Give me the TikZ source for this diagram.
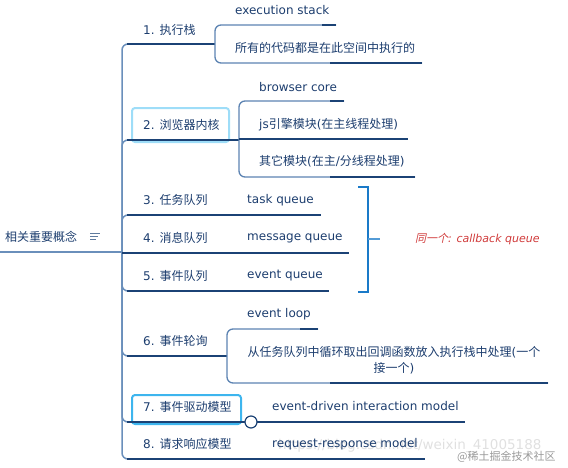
\documentclass[tikz,border=0pt]{standalone}
\usepackage{fontspec}
\setmainfont{DejaVu Sans}
\newfontfamily\cjkfont{Noto Sans CJK SC}
\newfontfamily\cjkslant[FakeSlant=0.22]{Noto Sans CJK SC}
\newfontfamily\latslant{DejaVu Sans Oblique}
\newcommand\zh[1]{{\cjkfont #1}}
\definecolor{txt}{HTML}{1C3D6E}
\definecolor{navy}{HTML}{1B4275}
\definecolor{trunk}{HTML}{6A8FBB}
\definecolor{subbr}{HTML}{5C83B2}
\definecolor{boxa}{HTML}{9EDDF8}
\definecolor{boxb}{HTML}{3DB5EE}
\definecolor{brk}{HTML}{1A7AC8}
\definecolor{redt}{HTML}{D03A3A}
\tikzset{
 lbl/.style={anchor=west, inner sep=0pt, text=txt, font=\fontsize{12}{15}\selectfont},
 ln/.style={draw=navy, line width=1.2pt},
 tr/.style={draw=trunk, line width=1.5pt, rounded corners=6pt},
 sb/.style={draw=subbr, line width=1.3pt, rounded corners=6pt},
 hibox/.style={rounded corners=3pt, line width=2pt},
}
\begin{document}
\begin{tikzpicture}[x=1pt,y=-1pt]
\useasboundingbox (0,0) rectangle (568,467);
% watermark
\node[anchor=west, inner sep=0pt, text=black!12, font=\fontsize{13.5}{16}\selectfont] (wm1) at (278,446) {https://blog.csdn.net/weixin\_41005188};
\node[anchor=west, inner sep=0pt, text=black!40, font=\cjkfont\fontsize{11}{13}\selectfont] (wm2) at (457,457) {@稀土掘金技术社区};
% root
\coordinate (root) at (122,252);
\node[lbl] (r) at (5,237) {\zh{相关重要概念}};
\draw[navy!70, line width=1pt] (90,233) -- (100,233) (90,236) -- (98,236) (90,239.5) -- (96,239.5);
\draw[trunk, line width=2pt] (0,252) -- (root);
% trunk curves
\foreach \yy in {44,140,215,291,356,422,459}{
  \draw[tr] (root) -- (122,\yy) -- (132,\yy);
}
% highlight boxes
\draw[boxa, hibox] (132,108) rectangle (229,142);
\draw[boxb, hibox] (132,395) rectangle (241,424);
% branch horizontals
\draw[ln] (127,44) -- (215,44);
\draw[ln] (127,140) -- (239,140);
\draw[ln] (127,215) -- (321,215);
\draw[ln] (122,253) -- (349,253);
\draw[ln] (127,291) -- (329,291);
\draw[ln] (127,356) -- (227,356);
\draw[ln] (127,422) -- (465,422);
\draw[ln] (127,459) -- (425,459);
% sub brackets
\draw[sb] (336,25) -- (215,25) -- (215,63) -- (422,63);
\draw[ln] (322,25) -- (336,25) (330,63) -- (422,63);
\draw[sb] (344,101) -- (239,101) -- (239,177) -- (415,177);
\draw[ln] (239,139) -- (408,139) (330,101) -- (344,101) (330,177) -- (415,177);
\draw[sb] (318,329) -- (227,329) -- (227,383) -- (548,383);
\draw[ln] (300,329) -- (318,329) (330,383) -- (548,383);
% circle on branch 7
\node[circle, draw=navy, fill=white, line width=1.2pt, minimum size=12pt, inner sep=0pt] (c7) at (251,422) {};
% labels
\node[lbl] (b1) at (143,30) {1. \zh{执行栈}};
\node[lbl] (s11) at (235,10) {execution stack};
\node[lbl] (s12) at (235,48) {\zh{所有的代码都是在此空间中执行的}};
\node[lbl] (b2) at (143,125) {2. \zh{浏览器内核}};
\node[lbl] (s21) at (259,87) {browser core};
\node[lbl] (s22) at (259,125) {js\zh{引擎模块}(\zh{在主线程处理})};
\node[lbl] (s23) at (259,161) {\zh{其它模块}(\zh{在主}/\zh{分线程处理})};
\node[lbl] (b3) at (143,200) {3. \zh{任务队列}};
\node[lbl] (s3) at (247,200) {task queue};
\node[lbl] (b4) at (143,238) {4. \zh{消息队列}};
\node[lbl] (s4) at (247,238) {message queue};
\node[lbl] (b5) at (143,276) {5. \zh{事件队列}};
\node[lbl] (s5) at (247,276) {event queue};
\node[lbl] (b6) at (143,341) {6. \zh{事件轮询}};
\node[lbl] (s61) at (247,314) {event loop};
\node[anchor=center, inner sep=0pt, text=txt, align=center, font=\fontsize{12}{16}\selectfont] (s62) at (394,360) {\zh{从任务队列中循环取出回调函数放入执行栈中处理}(\zh{一个}\\\zh{接一个})};
\node[lbl] (b7) at (143,407) {7. \zh{事件驱动模型}};
\node[lbl] (s7) at (272,406) {event-driven interaction model};
\node[lbl] (b8) at (143,444) {8. \zh{请求响应模型}};
\node[lbl] (s8) at (272,444) {request-response model};
% blue bracket
\draw[brk, line width=2pt] (358,187) -- (368,187) -- (368,292) -- (358,292);
\draw[brk!75, line width=2pt] (368,239) -- (380,239);
\node[anchor=west, inner sep=0pt, text=redt, font=\fontsize{11}{13}\selectfont] (note) at (415,239) {{\cjkslant 同一个}\latslant: callback queue};
\end{tikzpicture}
\end{document}
